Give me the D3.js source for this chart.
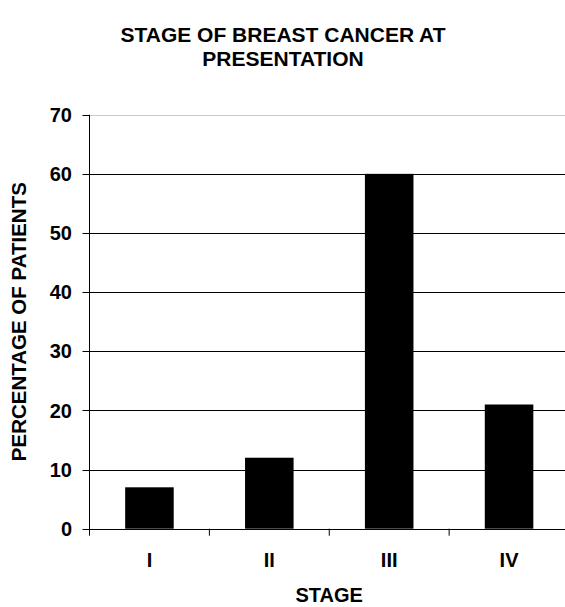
<!DOCTYPE html>
<html>
<head>
<meta charset="utf-8">
<script src="https://cdn.jsdelivr.net/npm/d3@7"></script>
<style>
  body { margin: 0; background: #fff; }
  svg { display: block; }
  text { font-family: "Liberation Sans", Arial, sans-serif; font-weight: bold; fill: #000; }
</style>
</head>
<body>
<svg id="chart"></svg>
<script>
// ----- Data -----
const stages = ["I", "II", "III", "IV"];
const percentages = [7, 12, 60, 21];
const yTicks = [0, 10, 20, 30, 40, 50, 60, 70];
const titleLines = ["STAGE OF BREAST CANCER AT", "PRESENTATION"];

// ----- Layout -----
const size = { width: 565, height: 607 };
const plot = { left: 89.5, right: 569, top: 114.7, bottom: 528.7 };

const svg = d3.select("#chart")
    .attr("width", size.width)
    .attr("height", size.height);

const x = d3.scaleBand().domain(stages).range([plot.left, plot.right])
    .paddingInner(0.595).paddingOuter(0.2975);
const y = d3.scaleLinear().domain([0, 70]).range([plot.bottom, plot.top]);
const step = x.step();

// ----- Gridlines -----
svg.append("g").selectAll("line")
    .data(yTicks.filter(d => d > 0))
    .join("line")
    .attr("x1", plot.left).attr("x2", plot.right)
    .attr("y1", d => Math.round(y(d)) + 0.5).attr("y2", d => Math.round(y(d)) + 0.5)
    .attr("stroke", d => d === 70 ? "#c8c8c8" : "#000")
    .attr("stroke-width", 1);

// ----- Bars -----
svg.append("g").selectAll("rect")
    .data(stages.map((s, i) => ({ s, v: percentages[i] })))
    .join("rect")
    .attr("x", d => x(d.s))
    .attr("width", x.bandwidth())
    .attr("y", d => y(d.v))
    .attr("height", d => y(0) - y(d.v))
    .attr("fill", "#000");

// ----- Y axis -----
const yAxis = svg.append("g");
yAxis.append("line")
    .attr("x1", plot.left).attr("x2", plot.left)
    .attr("y1", plot.top).attr("y2", plot.bottom + 6)
    .attr("stroke", "#000");
yAxis.selectAll(".ytick")
    .data(yTicks)
    .join("line")
    .attr("class", "ytick")
    .attr("x1", plot.left - 7).attr("x2", plot.left)
    .attr("y1", d => Math.round(y(d)) + 0.5).attr("y2", d => Math.round(y(d)) + 0.5)
    .attr("stroke", "#000");
yAxis.selectAll(".ylabel")
    .data(yTicks)
    .join("text")
    .attr("class", "ylabel")
    .attr("x", 72)
    .attr("y", d => y(d))
    .attr("dy", "0.36em")
    .attr("text-anchor", "end")
    .style("font-size", "20px")
    .text(d => d);

// ----- X axis -----
const xAxis = svg.append("g");
xAxis.append("line")
    .attr("x1", plot.left).attr("x2", plot.right)
    .attr("y1", Math.round(plot.bottom) + 0.5).attr("y2", Math.round(plot.bottom) + 0.5)
    .attr("stroke", "#000");
xAxis.selectAll(".xtick")
    .data(stages.concat(["end"]))
    .join("line")
    .attr("class", "xtick")
    .attr("x1", (d, i) => plot.left + i * step).attr("x2", (d, i) => plot.left + i * step)
    .attr("y1", plot.bottom).attr("y2", plot.bottom + 7)
    .attr("stroke", "#000");
xAxis.selectAll(".xlabel")
    .data(stages)
    .join("text")
    .attr("class", "xlabel")
    .attr("x", d => x(d) + x.bandwidth() / 2)
    .attr("y", 567)
    .attr("text-anchor", "middle")
    .style("font-size", "20px")
    .text(d => d);

// ----- Axis titles -----
svg.append("text")
    .attr("x", (plot.left + plot.right) / 2)
    .attr("y", 602)
    .attr("text-anchor", "middle")
    .style("font-size", "20px")
    .text("STAGE");

svg.append("text")
    .attr("transform", `translate(26,${(plot.top + plot.bottom) / 2}) rotate(-90)`)
    .attr("text-anchor", "middle")
    .style("font-size", "20.5px")
    .text("PERCENTAGE OF PATIENTS");

// ----- Title -----
svg.append("text")
    .attr("text-anchor", "middle")
    .style("font-size", "21px")
    .selectAll("tspan")
    .data(titleLines)
    .join("tspan")
    .attr("x", 283)
    .attr("y", (d, i) => 42 + i * 24)
    .text(d => d);
</script>
</body>
</html>
